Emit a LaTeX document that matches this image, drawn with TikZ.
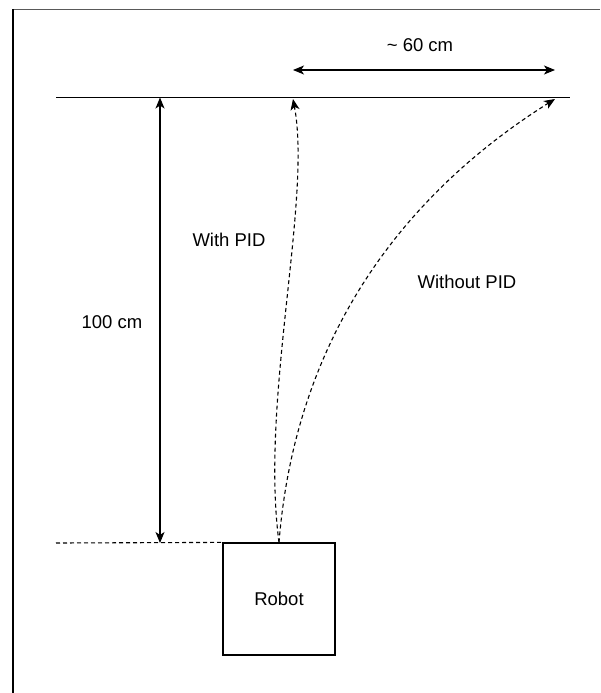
\documentclass[tikz,border=0pt]{standalone}
\usepackage{fontspec}
\setmainfont{Liberation Sans}
\usetikzlibrary{arrows.meta}
\tikzset{
  px/.style={x=1pt,y=-1pt},
  lbl/.style={font=\fontsize{18.5}{22}\selectfont, inner sep=0pt},
  tip/.style={-{Stealth[length=11pt,width=9pt,inset=3pt]}},
  dtip/.style={{Stealth[length=11pt,width=9pt,inset=3pt]}-{Stealth[length=11pt,width=9pt,inset=3pt]}},
  dash7/.style={dash pattern=on 4pt off 3pt},
  boxstyle/.style={draw, line width=1.2pt, minimum width=112pt, minimum height=112pt, inner sep=0pt, font=\fontsize{18.5}{22}\selectfont}
}
\begin{document}
\begin{tikzpicture}[px]
\useasboundingbox (0,0) rectangle (600,693);
% frame
\draw[gray!70!black, line width=1pt] (13,9.5) -- (600,9.5);
\draw[black, line width=2pt] (13,9.5) -- (13,693);
% coordinates
\coordinate (topL) at (56,97.5);
\coordinate (topR) at (570,97.5);
\coordinate (dimL) at (293,70);
\coordinate (dimR) at (555,70);
\coordinate (vTop) at (160,97.5);
\coordinate (vBot) at (160,543);
\coordinate (baseL) at (56,543);
\coordinate (endPID) at (293,99);
\coordinate (endNo) at (555,99);
% robot
\node[boxstyle] (robot) at (279,599) {Robot};
% lines
\draw[line width=1.2pt] (topL) -- (topR);
\draw[line width=1.1pt, dash7] (baseL) -- (robot.north west);
\draw[line width=1.1pt, dtip] (dimL) -- (dimR);
\draw[line width=1.1pt, dtip] (vTop) -- (vBot);
% curves
\draw[line width=1.1pt, dash7, tip] (robot.north) .. controls (260,400) and (312,200) .. (endPID);
\draw[line width=1.1pt, dash7, tip] (robot.north) .. controls (296,330) and (410,190) .. (endNo);
% labels
\node[lbl] (l60) at (420,45) {\textasciitilde\ 60 cm};
\node[lbl] (l100) at (112,322) {100 cm};
\node[lbl] (lwith) at (229,240) {With PID};
\node[lbl] (lwithout) at (467,282) {Without PID};
\end{tikzpicture}
\end{document}
